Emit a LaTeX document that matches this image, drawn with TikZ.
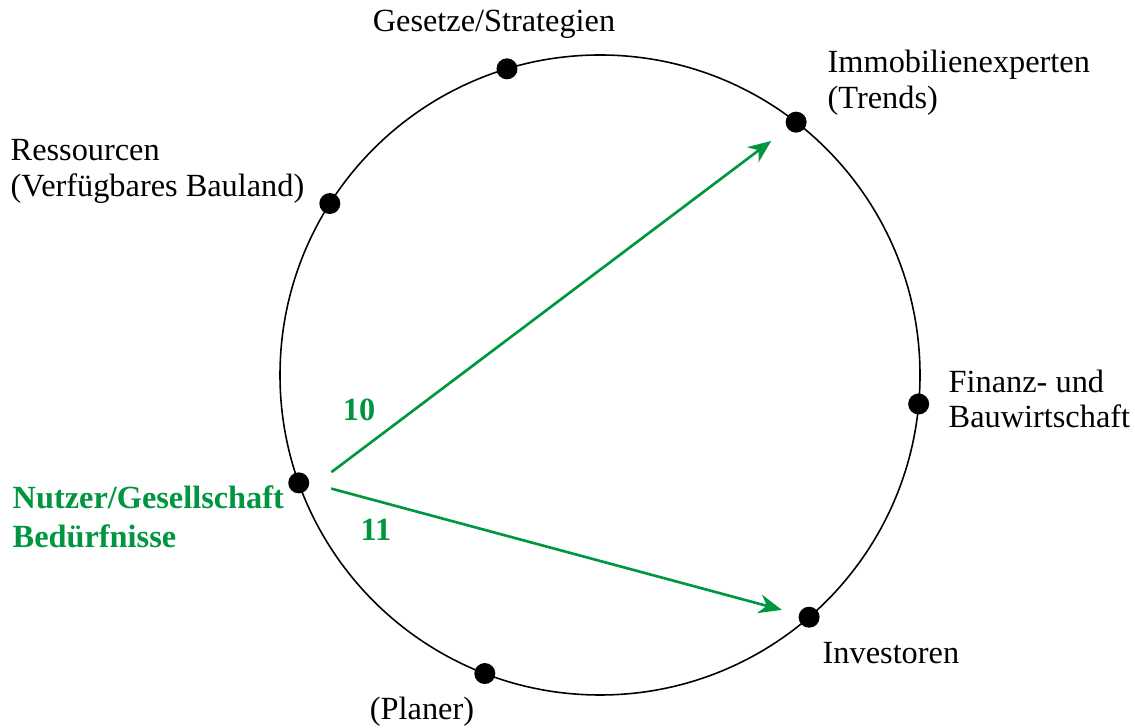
\documentclass[tikz,border=0pt]{standalone}
\usepackage{fontspec}
\setmainfont{Liberation Serif}
\usepackage{tikz}
\usetikzlibrary{arrows.meta, positioning, calc}
\definecolor{nutzgreen}{RGB}{0,150,64}

\begin{document}
\begin{tikzpicture}[
    font=\fontsize{9.2}{10.2}\selectfont,
    dot/.style={circle, fill=black, inner sep=0pt, minimum size=0.21cm},
    lab/.style={inner sep=0pt, align=left, anchor=west},
    flow/.style={nutzgreen, line width=0.75pt, -{Stealth[length=2.3mm, width=1.9mm]}},
    num/.style={inner sep=0pt, text=nutzgreen, font=\fontsize{9.2}{10.2}\selectfont\bfseries}
]
    \useasboundingbox (0,0) rectangle (11.35,7.28);

    % Ring
    \coordinate (c) at (6.00,3.53);
    \draw[line width=0.45pt] (c) circle (3.20);

    % Dots on the ring
    \node[dot] (gesetze)    at ($(c)+(106.9:3.2)$) {};
    \node[dot] (immo)       at ($(c)+(52.2:3.2)$) {};
    \node[dot] (finanz)     at ($(c)+(-5.2:3.2)$) {};
    \node[dot] (invest)     at ($(c)+(-49.2:3.2)$) {};
    \node[dot] (planer)     at ($(c)+(-111.1:3.2)$) {};
    \node[dot] (nutzer)     at ($(c)+(199.7:3.2)$) {};
    \node[dot] (ressourcen) at ($(c)+(147.6:3.2)$) {};

    % Labels
    \node[inner sep=0pt] (gesetzeT) at (4.94,7.04) {Gesetze/Strategien};
    \node[lab] (immoT) at (8.27,6.45) {Immobilienexperten\\(Trends)};
    \node[lab] (ressourcenT) at (0.10,5.57) {Ressourcen\\(Verfügbares Bauland)};
    \node[lab] (finanzT) at (9.48,3.29) {Finanz- und\\Bauwirtschaft};
    \node[lab, text=nutzgreen, font=\fontsize{9.2}{11}\selectfont\bfseries] (nutzerT) at (0.12,2.11) {Nutzer/Gesellschaft\\Bedürfnisse};
    \node[lab] (investT) at (8.22,0.75) {Investoren};
    \node[inner sep=0pt] (planerT) at (4.22,0.16) {(Planer)};

    % Flows
    \draw[flow, shorten <=0.31cm, shorten >=0.2cm] (nutzer.south east) -- (immo);
    \draw[flow, shorten <=0.22cm, shorten >=0.17cm] (nutzer.east) -- (invest);
    \node[num] (n10) at (3.59,3.18) {10};
    \node[num] (n11) at (3.76,1.98) {11};
\end{tikzpicture}
\end{document}
